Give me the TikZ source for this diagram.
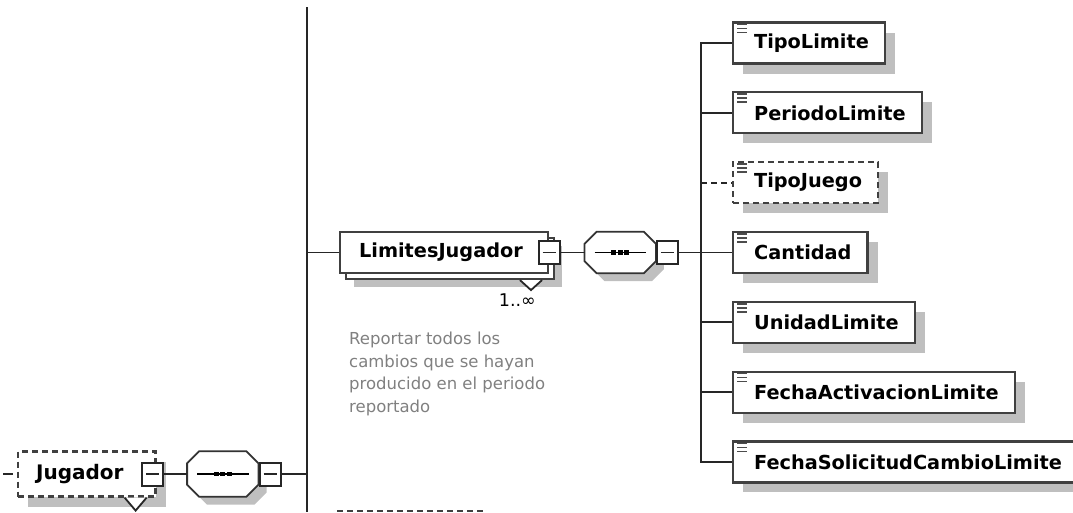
\documentclass[tikz,border=0pt]{standalone}
\usepackage{fontspec}
\setmainfont{DejaVu Sans}
\usetikzlibrary{positioning,shadows}

% sequence compositor: octagon round an empty node
\newcommand{\octpath}[1]{([xshift=12pt]#1.north west) -- ([xshift=-12pt]#1.north east)
  -- ([yshift=-12pt]#1.north east) -- ([yshift=12pt]#1.south east)
  -- ([xshift=-12pt]#1.south east) -- ([xshift=12pt]#1.south west)
  -- ([yshift=12pt]#1.south west) -- ([yshift=-12pt]#1.north west) -- cycle}
\newcommand{\seqframe}[1]{%
  \fill[black!25,transform canvas={shift={(8pt,-8pt)}}] \octpath{#1};
  \draw[line width=1.8pt,draw=black!80,fill=white] \octpath{#1};
  \draw[line width=1.8pt] ([xshift=10pt]#1.west) -- ([xshift=-10pt]#1.east);
  \foreach \k in {-6.5,0,6.5}
    \fill ([xshift=\k pt-2.4pt,yshift=-2.4pt]#1.center) rectangle ++(4.8pt,4.8pt);}

\begin{document}
\begin{tikzpicture}[x=1pt,y=-1pt,
    conn/.style={line width=1.8pt,draw=black!85},
    optconn/.style={conn,dash pattern=on 6pt off 4pt},
    boxshadow/.style={drop shadow={shadow xshift=10pt,shadow yshift=-10pt,fill=black!25,opacity=1}},
    basebox/.style={rectangle,draw=black!75,line width=2.2pt,fill=white,anchor=west,
                    inner ysep=0pt,font=\bfseries\fontsize{19.3}{23}\selectfont},
    elem/.style={basebox,boxshadow,inner xsep=16pt,minimum height=41pt,
                 execute at begin node={\hspace*{5pt}}},
    optelem/.style={elem,dash pattern=on 6pt off 4pt},
    stackbox/.style={basebox,
                     drop shadow={shadow xshift=14pt,shadow yshift=-14pt,fill=black!25,opacity=1},
                     copy shadow={shadow xshift=6pt,shadow yshift=-6pt,draw=black!75,fill=white,line width=2.2pt},
                     inner xsep=19pt,minimum height=41pt,execute at end node={\hspace*{6pt}}},
    minusbox/.style={rectangle,draw=black!85,line width=2pt,fill=white,
                     minimum width=21pt,minimum height=23pt,inner sep=0pt,
                     path picture={\draw[line width=1.6pt]
                       ([xshift=4pt]path picture bounding box.west) --
                       ([xshift=-4pt]path picture bounding box.east);}},
    seqbox/.style={rectangle,inner sep=0pt,minimum width=71pt},
    icon/.style={line width=1.6pt,draw=black!70},
    note/.style={font=\fontsize{16.5}{22.5}\selectfont,text=black!50,align=left,
                 anchor=north west,inner sep=0pt},
    mult/.style={font=\fontsize{17.5}{20}\selectfont,inner sep=0pt}
  ]

  \useasboundingbox (0,0) rectangle (1073,512);

  % root sequence trunk
  \coordinate (ltop) at (307,7);
  \coordinate (lbot) at (307,512);
  \draw[conn] (ltop) -- (lbot);

  % Jugador
  \coordinate (jugin) at (3,474);
  \node[basebox,boxshadow,dash pattern=on 6pt off 4pt,inner xsep=18pt,minimum height=45pt,
        font=\bfseries\fontsize{20}{24}\selectfont,execute at end node={\hspace*{14pt}}]
        (jug) at (17,474) {Jugador};
  \draw[conn,dash pattern=on 10pt off 6pt] (jugin) -- (jug.west);
  \draw[conn,fill=white] ([shift={(-32,0)}]jug.south east) -- ([shift={(-21,13)}]jug.south east)
        -- ([shift={(-10,0)}]jug.south east);
  \node[minusbox] (jugm) at ([xshift=-4pt]jug.east) {};
  \node[seqbox,minimum height=45pt,right=23pt of jugm] (seq1) {};
  \seqframe{seq1}
  \node[minusbox,anchor=west] (seq1m) at (seq1.east) {};
  \draw[conn] (jugm) -- (seq1);
  \draw[conn] (seq1m) -- (seq1m -| ltop);

  % LimitesJugador
  \node[stackbox] (lj) at (339,252.5) {LimitesJugador};
  \draw[conn] (lj.west -| ltop) -- (lj.west);
  \draw[conn,fill=white] ([shift={(-29,6)}]lj.south east) -- ([shift={(-18,16)}]lj.south east)
        -- ([shift={(-7,6)}]lj.south east);
  \node[mult,anchor=north east] (ljmult) at ([shift={(-13,19)}]lj.south east) {1..∞};
  \node[note] (ljnote) at ([shift={(10,58)}]lj.south west)
        {Reportar todos los\\cambios que se hayan\\producido en el periodo\\reportado};
  \node[minusbox] (ljm) at (lj.east) {};
  \node[seqbox,minimum height=41pt,right=24pt of ljm] (seq2) {};
  \seqframe{seq2}
  \node[minusbox,anchor=west] (seq2m) at (seq2.east) {};
  \coordinate (bus) at ([xshift=22pt]seq2m.east);
  \draw[conn] (ljm) -- (seq2);
  \draw[conn] (seq2m) -- (bus);

  % children of LimitesJugador
  \foreach \nm/\txt/\sty/\ln [count=\i from 0] in {
      tipolim/TipoLimite/elem/conn,
      periodo/PeriodoLimite/elem/conn,
      tipojue/TipoJuego/optelem/optconn,
      cantidad/Cantidad/elem/conn,
      unidad/UnidadLimite/elem/conn,
      fechaact/FechaActivacionLimite/elem/conn,
      fechasol/FechaSolicitudCambioLimite/elem/conn}{
    \node[\sty] (\nm) at (732,{43+69.83*\i}) {\txt};
    \draw[\ln] (bus) |- (\nm.west);
    \foreach \d in {3,7,11}
      \draw[icon] ([xshift=5pt,yshift=-\d pt]\nm.north west) -- ++(10,0);
  }

  % next optional element, cut off
  \coordinate (nxtl) at (337,511);
  \coordinate (nxtr) at (485,511);
  \draw[optconn,draw=black!75,line width=2.2pt] (nxtl) -- (nxtr);
\end{tikzpicture}
\end{document}
